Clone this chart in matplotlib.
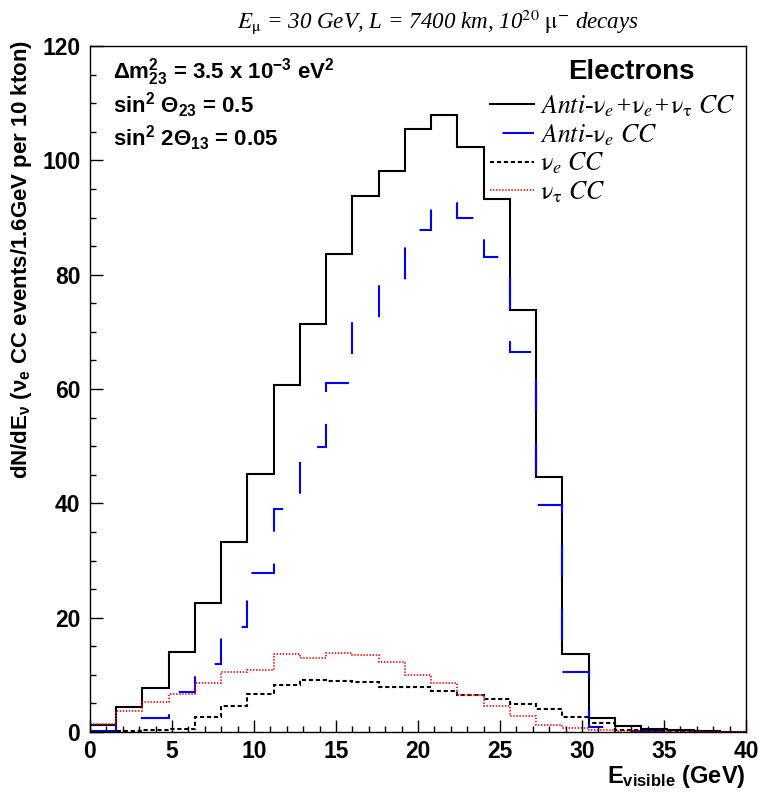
import numpy as np
import matplotlib.pyplot as plt
import matplotlib as mpl

mpl.rcParams['mathtext.fontset'] = 'custom'
mpl.rcParams['mathtext.rm'] = 'Liberation Sans'
mpl.rcParams['mathtext.it'] = 'Liberation Sans:italic'
mpl.rcParams['mathtext.bf'] = 'Liberation Sans:bold'
mpl.rcParams['lines.scale_dashes'] = False


# 25 bins of 1.6 GeV between 0 and 40 GeV
edges = np.linspace(0, 40, 26)

total = [1.2, 4.4, 7.7, 14.0, 22.6, 33.2, 45.1, 60.7, 71.4, 83.6,
         93.8, 98.2, 105.5, 107.9, 102.3, 93.3, 73.9, 44.6, 13.6, 2.4,
         1.05, 0.6, 0.35, 0.12, 0.05]
anti_nue = [0.2, 1.0, 2.5, 7.0, 11.9, 18.4, 27.8, 39.0, 49.9, 61.0,
            72.0, 78.4, 87.9, 92.5, 90.0, 83.1, 66.4, 39.7, 10.5, 0.8,
            0.2, 0.1, 0.05, 0.05, 0.02]
nue = [0.05, 0.1, 0.3, 0.6, 2.6, 4.6, 6.6, 8.3, 9.1, 9.0,
       8.7, 7.9, 7.9, 7.2, 6.4, 5.8, 4.9, 4.0, 2.7, 1.6,
       0.3, 0.15, 0.1, 0.05, 0.02]
nutau = [1.4, 3.7, 5.2, 6.6, 8.5, 10.5, 10.9, 13.6, 13.0, 13.9,
         13.5, 12.2, 10.0, 8.5, 6.5, 4.5, 2.8, 1.3, 0.75, 0.3,
         0.1, 0.05, 0.02, 0.01, 0.0]

labels = [
    r'$\mathit{Anti}$-$\mathrm{\nu}_{\mathit{e}}$+$\mathrm{\nu}_{\mathit{e}}$+$\mathrm{\nu}_{\mathrm{\tau}}$ $\mathit{CC}$',
    r'$\mathit{Anti}$-$\mathrm{\nu}_{\mathit{e}}$ $\mathit{CC}$',
    r'$\mathrm{\nu}_{\mathit{e}}$ $\mathit{CC}$',
    r'$\mathrm{\nu}_{\mathrm{\tau}}$ $\mathit{CC}$',
]

xticks = [0, 5, 10, 15, 20, 25, 30, 35, 40]
yticks = [0, 20, 40, 60, 80, 100, 120]


def main():

    fig = plt.figure(figsize=(7.6, 7.92), dpi=100)
    ax = fig.add_axes([90/760, 60/792, 656/760, 686/792])

    h1 = ax.stairs(total, edges, baseline=None, color='k', lw=1.5)
    h2 = ax.stairs(anti_nue, edges, baseline=None, color='#0000ff', lw=1.5,
                   linestyle=(0, (23, 23)))
    h3 = ax.stairs(nue, edges, baseline=None, color='k', lw=1.5,
                   linestyle=(0, (3, 2)))
    h4 = ax.stairs(nutau, edges, baseline=None, color='#ff0000', lw=1.2,
                   linestyle=(0, (1, 1.2)))

    ax.set_xlim(0, 40)
    ax.set_ylim(0, 120)
    ax.set_xticks(xticks)
    ax.set_yticks(yticks)
    ax.set_xticks(np.arange(0, 41, 1), minor=True)
    ax.set_yticks(np.arange(0, 121, 5), minor=True)
    ax.tick_params(which='both', direction='in', top=False, right=False)
    ax.tick_params(which='major', length=9, width=1.0)
    ax.tick_params(which='minor', length=4.5, width=1.0)
    ax.tick_params(axis='y', pad=7)
    ax.tick_params(axis='x', pad=6)
    for lab in ax.get_xticklabels() + ax.get_yticklabels():
        lab.set_fontfamily('Liberation Sans')
        lab.set_fontweight('bold')
        lab.set_fontsize(16.5)
    for s in ax.spines.values():
        s.set_linewidth(1.0)

    # axis titles (ROOT style: right / top aligned)
    fig.text(746/760, 1 - 777/792, r'$\mathbf{E}_{\mathbf{visible}}$ (GeV)',
             ha='right', va='center', fontsize=17, fontweight='bold',
             fontfamily='Liberation Sans')
    fig.text(22/760, 1 - 40/792,
             r'dN/dE$_{\mathbf{\nu}}$ ($\mathbf{\nu}_{\mathbf{e}}$ CC events/1.6GeV per 10 kton)',
             rotation=90, ha='center', va='top', fontsize=16, fontweight='bold',
             fontfamily='Liberation Sans')

    fig.text(438/760, 1 - 22/792,
             r'$\mathit{E}_{\mathrm{\mu}}$ = 30 GeV, L = 7400 km, 10$^{\mathit{20}}$ $\mathrm{\mu}^{\mathrm{-}}$ decays',
             ha='center', va='center', fontsize=16.6, fontstyle='italic',
             fontfamily='Liberation Serif', math_fontfamily='stix')

    # oscillation parameters
    params = [r'$\mathbf{\Delta}$m$^{\mathbf{2}}_{\mathbf{23}}$ = 3.5 x 10$^{\mathbf{-3}}$ eV$^{\mathbf{2}}$',
              r'sin$^{\mathbf{2}}$ $\mathbf{\Theta}_{\mathbf{23}}$ = 0.5',
              r'sin$^{\mathbf{2}}$ 2$\mathbf{\Theta}_{\mathbf{13}}$ = 0.05']
    for i, p in enumerate(params):
        ax.text(0.035, 0.962 - i*0.048, p, transform=ax.transAxes,
                ha='left', va='center', fontsize=16, fontweight='bold',
                fontfamily='Liberation Sans')

    ax.text(0.826, 0.962, 'Electrons', transform=ax.transAxes,
            ha='center', va='center', fontsize=20, fontweight='bold',
            fontfamily='Liberation Sans')

    leg = ax.legend([h1, h2, h3, h4], labels, loc='upper left',
                    bbox_to_anchor=(0.61, 0.931), frameon=False,
                    prop={'family': 'Liberation Serif', 'style': 'italic', 'size': 18.5},
                    handlelength=1.7, handletextpad=0.25, labelspacing=0.12,
                    borderpad=0, borderaxespad=0)
    for t in leg.get_texts():
        t.set_math_fontfamily('stix')
    # the long dashes of the blue histogram start with a gap in the key
    leg.legend_handles[1].set_linestyle((37, (23, 23)))

    fig.savefig('out.png', dpi=100)

    return


if __name__ == "__main__":
    main()
